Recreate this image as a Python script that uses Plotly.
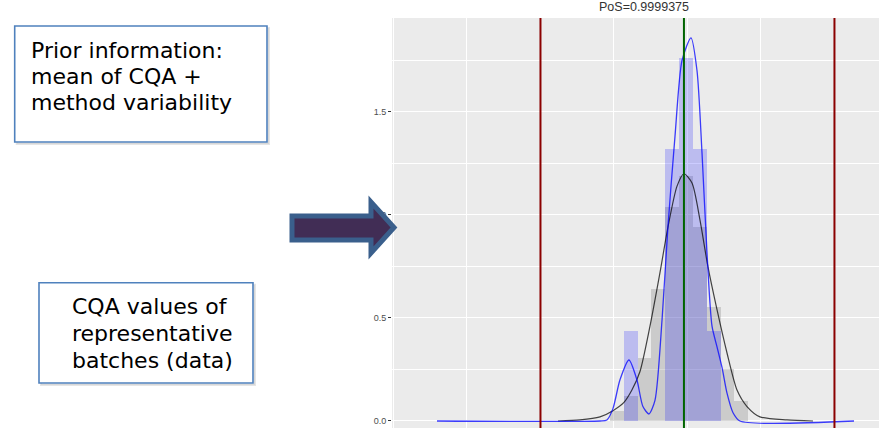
import plotly.graph_objects as go

# ---------------- data ----------------
bin_start = 97.973
bin_width = 0.094
data_hist = [0.048, 0.12, 0.306, 0.642, 1.04, 1.19, 0.943, 0.553, 0.252, 0.099]
prior_hist = [0, 0.438, 0, 0, 1.32, 1.76, 1.32, 0.438, 0, 0]

dens_data_x = [97.619, 97.769, 97.905, 97.993, 98.068, 98.122, 98.177, 98.245, 98.313,
               98.367, 98.429, 98.476, 98.531, 98.585, 98.639, 98.701, 98.769, 98.837,
               98.905, 98.993, 99.177, 99.354]
dens_data_y = [0.0, 0.005, 0.02, 0.05, 0.09, 0.15, 0.24, 0.46, 0.72,
               0.94, 1.14, 1.20, 1.155, 0.976, 0.75, 0.54, 0.33, 0.15,
               0.07, 0.02, 0.005, 0.0]

dens_post_x = [96.796, 97.905, 97.952, 97.993, 98.041, 98.102, 98.156, 98.197, 98.238,
               98.279, 98.327, 98.367, 98.415, 98.463, 98.524, 98.565, 98.599, 98.633,
               98.667, 98.701, 98.735, 98.769, 98.810, 98.857, 99.633]
dens_post_y = [0.0, 0.0, 0.005, 0.06, 0.2, 0.296, 0.2, 0.07, 0.034,
               0.10, 0.49, 0.94, 1.38, 1.75, 1.86, 1.70, 1.30, 0.815,
               0.46, 0.36, 0.26, 0.135, 0.04, 0.0, 0.0]

spec_limits = [97.5, 99.5]
target = 98.476
pos_title = "PoS=0.9999375"
y_tick_vals = [0, 0.5, 1.0, 1.5]
y_tick_text = ["0.0", "0.5", "1.0", "1.5"]
box1_lines = ["Prior information:", "mean of CQA +", "method variability"]
box2_lines = ["CQA values of", "representative", "batches (data)"]

# ---------------- layout geometry ----------------
W, H = 879, 428
L, T = 392, 18
PW, PH = W - L, H - T


def px(x):
    return (x - L) / PW


def py(y):
    return (H - y) / PH


bin_centers = [bin_start + (i + 0.5) * bin_width for i in range(len(data_hist))]

fig = go.Figure()
fig.add_trace(go.Bar(x=bin_centers, y=data_hist, width=bin_width,
                     marker=dict(color="rgba(128,128,128,0.30)", line=dict(width=0)),
                     hoverinfo="skip"))
fig.add_trace(go.Bar(x=bin_centers, y=prior_hist, width=bin_width,
                     marker=dict(color="rgba(0,0,255,0.20)", line=dict(width=0)),
                     hoverinfo="skip"))
fig.add_trace(go.Scatter(x=dens_data_x, y=dens_data_y, mode="lines",
                         line=dict(color="rgba(0,0,0,0.72)", width=1.2, shape="spline", smoothing=0.7)))
fig.add_trace(go.Scatter(x=dens_post_x, y=dens_post_y, mode="lines",
                         line=dict(color="rgba(0,0,255,0.75)", width=1.3, shape="spline", smoothing=0.7)))

shapes = []
for s in spec_limits:
    shapes.append(dict(type="line", xref="x", yref="paper", x0=s, x1=s, y0=0, y1=1,
                       line=dict(color="#8B0000", width=2), layer="above"))
shapes.append(dict(type="line", xref="x", yref="paper", x0=target, x1=target, y0=0, y1=1,
                   line=dict(color="#006400", width=2), layer="above"))


def rect(x0, y0, x1, y1, **kw):
    return dict(type="rect", xref="paper", yref="paper",
                x0=px(x0), x1=px(x1), y0=py(y1), y1=py(y0), **kw)


# text boxes with soft shadow
for (bx0, by0, bx1, by1) in [(14.7, 26, 267, 142), (39, 282.7, 253, 383)]:
    shapes.append(rect(bx0 + 2, by0 + 2, bx1 + 2, by1 + 2,
                       line=dict(color="rgba(0,0,0,0.10)", width=2), fillcolor="rgba(0,0,0,0.06)", layer="above"))
    shapes.append(rect(bx0, by0, bx1, by1, line=dict(color="#4F81BD", width=1.6),
                       fillcolor="white", layer="above"))

# arrow
pts = [(292, 216), (371, 216), (371, 202), (394, 227.5), (371, 253), (371, 240), (292, 240)]
path = "M " + " L ".join(f"{px(a):.5f},{py(b):.5f}" for a, b in pts) + " Z"
shapes.append(dict(type="path", xref="paper", yref="paper", path=path,
                   fillcolor="#412D55", line=dict(color="#3A5F8C", width=5), layer="above"))

annotations = [dict(text=pos_title, xref="paper", yref="paper", x=px(644), y=py(7.5),
                    xanchor="center", yanchor="middle", showarrow=False,
                    font=dict(family="Liberation Sans", size=12.5, color="#333333"))]
for lines, x0, centers in [(box1_lines, 28.5, [50.2, 76.8, 103.0]),
                           (box2_lines, 70.0, [306.5, 333.8, 360.5])]:
    for t, c in zip(lines, centers):
        annotations.append(dict(text=t, xref="paper", yref="paper", x=px(x0), y=py(c),
                                xanchor="left", yanchor="middle", showarrow=False,
                                font=dict(family="DejaVu Sans", size=22, color="black")))

fig.update_layout(
    width=W, height=H,
    margin=dict(l=L, r=0, t=T, b=0, pad=0),
    paper_bgcolor="white", plot_bgcolor="#EBEBEB",
    barmode="overlay", bargap=0, showlegend=False,
    shapes=shapes, annotations=annotations,
    xaxis=dict(range=[96.49, 99.803], tick0=97, dtick=1, showgrid=True,
               gridcolor="white", gridwidth=1.1, showticklabels=False, ticks="",
               zeroline=False, showline=False,
               minor=dict(tick0=96.5, dtick=0.5, showgrid=True, gridcolor="white", gridwidth=0.55)),
    yaxis=dict(range=[-0.034, 1.956], tickvals=y_tick_vals, ticktext=y_tick_text,
               ticks="outside", ticklen=3, tickwidth=1, tickcolor="#333333",
               tickfont=dict(family="Liberation Sans", size=9, color="#4D4D4D"),
               showgrid=True, gridcolor="white", gridwidth=1.1, zeroline=False, showline=False,
               minor=dict(tick0=0, dtick=0.25, showgrid=True, gridcolor="white", gridwidth=0.55)),
)

fig.write_html("out.html", config={"displayModeBar": False},
               post_script="document.body.style.margin='0';document.body.style.overflow='hidden';")
